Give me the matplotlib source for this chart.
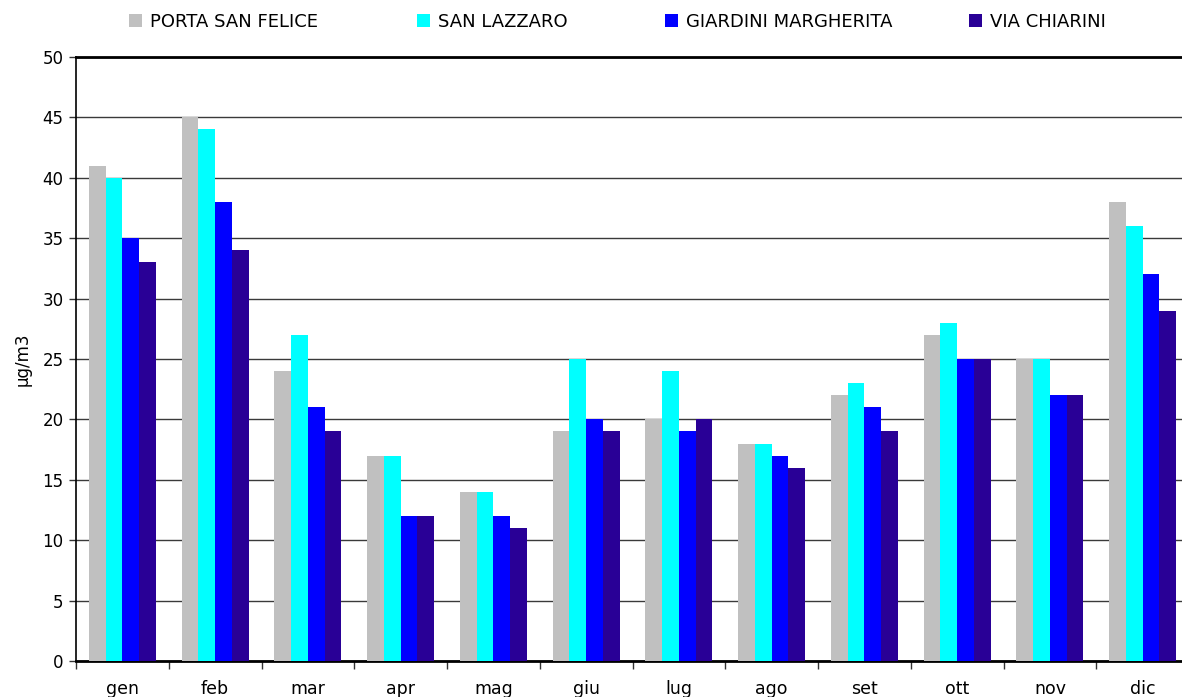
import matplotlib
matplotlib.use("Agg")
import matplotlib.pyplot as plt
import numpy as np
from matplotlib.patches import Patch

months = ["gen", "feb", "mar", "apr", "mag", "giu", "lug", "ago", "set", "ott", "nov", "dic"]
series_names = ["PORTA SAN FELICE", "SAN LAZZARO", "GIARDINI MARGHERITA", "VIA CHIARINI"]
porta_san_felice = [41, 45, 24, 17, 14, 19, 20, 18, 22, 27, 25, 38]
san_lazzaro = [40, 44, 27, 17, 14, 25, 24, 18, 23, 28, 25, 36]
giardini_margherita = [35, 38, 21, 12, 12, 20, 19, 17, 21, 25, 22, 32]
via_chiarini = [33, 34, 19, 12, 11, 19, 20, 16, 19, 25, 22, 29]
colors = ["#C0C0C0", "#00FFFF", "#0000FF", "#290096"]
y_ticks = [0, 5, 10, 15, 20, 25, 30, 35, 40, 45, 50]

plt.rcParams['font.family'] = ['DejaVu Sans']

fig = plt.figure(figsize=(11.82, 6.97), dpi=100)
ax = fig.add_axes([76/1182, 1-661/697, (1189-76)/1182, (661-57)/697])

x = np.arange(len(months))
w = 0.18
data = [porta_san_felice, san_lazzaro, giardini_margherita, via_chiarini]
for i, (vals, c) in enumerate(zip(data, colors)):
    ax.bar(x + (i - 1.5) * w, vals, width=w, color=c, edgecolor='none', zorder=3)

ax.set_xlim(-0.5, len(months) - 0.5)
ax.set_ylim(0, 50)
ax.set_yticks(y_ticks)
ax.set_yticklabels([str(t) for t in y_ticks], fontsize=12)
ax.yaxis.grid(True, color='#3A3A3A', lw=1, zorder=2)
ax.set_axisbelow(True)

ax.set_xticks(x)
ax.set_xticklabels(months, fontsize=12.5)
ax.set_xticks(np.arange(-0.5, len(months)), minor=True)
ax.tick_params(axis='x', which='major', length=0, pad=14)
ax.tick_params(axis='x', which='minor', length=6, width=1, color='#333333')
ax.tick_params(axis='y', length=5, width=1, color='#333333', pad=4)

for s in ['top', 'bottom']:
    ax.spines[s].set_linewidth(2)
    ax.spines[s].set_color('black')
ax.spines['left'].set_linewidth(1.2)
ax.spines['right'].set_visible(False)

ax.set_ylabel("µg/m3", fontsize=12, labelpad=8)

xs = [129, 417, 665, 969]
for name, c, xp in zip(series_names, colors, xs):
    fig.legend(handles=[Patch(facecolor=c, edgecolor='none', label=name)],
               loc='center left', bbox_to_anchor=(xp/1182, 1-22/697),
               frameon=False, fontsize=13, handlelength=0.7, handleheight=0.7,
               handletextpad=0.45, borderpad=0, borderaxespad=0)

fig.savefig("out.png", dpi=100)
